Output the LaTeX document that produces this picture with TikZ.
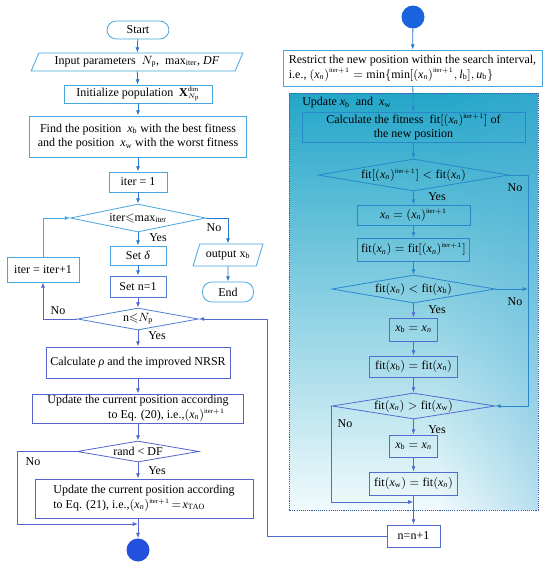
\documentclass[tikz,border=0pt]{standalone}
\usepackage{amssymb}
\usepackage{fontspec}
\setmainfont{Liberation Serif}
\usetikzlibrary{shapes.geometric,arrows.meta,calc,fadings}
\definecolor{lc}{RGB}{70,165,220}
\definecolor{ac}{RGB}{40,120,205}
\definecolor{ic}{RGB}{85,100,205}
\definecolor{bc}{RGB}{40,135,205}
\definecolor{jc}{RGB}{80,110,210}
\definecolor{dotc}{RGB}{50,90,170}
\definecolor{circA}{RGB}{25,100,220}
\definecolor{circB}{RGB}{35,80,220}
\definecolor{tealc}{RGB}{36,166,201}
\definecolor{midc}{RGB}{150,212,230}
\definecolor{lightc}{RGB}{240,250,252}
\definecolor{edgec}{RGB}{80,175,215}
\tikzfading[name=fadr, left color=transparent!100, right color=transparent!65]
\newcommand\fs{\fontsize{9}{11}\selectfont}
\newcommand\pxu{0.75pt}
\newcommand\itr{^{\scriptscriptstyle\mathrm{iter}+1}}
\newcommand\vx{\mathit{x}}
\newcommand\xnn{\mathit{x}_{\mathit{n}}}
\tikzset{
  sz/.style 2 args={minimum width=#1*\pxu, minimum height=#2*\pxu},
  base/.style={font=\fs, inner sep=1pt, align=center, line width=0.6pt},
  boxl/.style={base, draw=lc, fill=white},
  boxi/.style={base, draw=ic, fill=white},
  boxr/.style={base, draw=bc},
  boxj/.style={base, draw=jc},
  term/.style={boxl, rounded corners=7pt},
  para/.style={boxl, trapezium, trapezium left angle=65, trapezium right angle=115, trapezium stretches=true},
  dia/.style={base, diamond, inner sep=0pt, draw=lc, fill=white},
  diai/.style={dia, draw=ic},
  diar/.style={base, diamond, inner sep=0pt, draw=bc},
  diaj/.style={diar, draw=jc},
  lbl/.style={font=\fs, inner sep=0pt},
  arrL/.style={draw=ac, line width=0.6pt, -{Latex[length=4pt,width=3pt]}},
  arrI/.style={draw=ic, line width=0.6pt, -{Latex[length=4pt,width=3pt]}},
  arrB/.style={draw=bc, line width=0.6pt, -{Latex[length=4pt,width=3pt]}},
  arrJ/.style={draw=jc, line width=0.6pt, -{Latex[length=4pt,width=3pt]}},
}
\begin{document}
\begin{tikzpicture}[x=0.75pt,y=-0.75pt]
\useasboundingbox (0,0) rectangle (550,569);
\fill[white] (0,0) rectangle (550,569);
% blue region
\shade[top color=tealc, middle color=midc, bottom color=lightc] (289,93) rectangle (538,510);
\fill[edgec, path fading=fadr] (440,93) rectangle (538,510);
\draw[dotc, line width=0.5pt, dash pattern=on 0.8pt off 0.8pt] (289,93) rectangle (538,510);

% left column
\node[term, sz={62}{18}] (start) at (138,30) {Start};
\node[para, sz={212}{18}] (inp) at (137,62) {Input parameters\ \ $N_\mathrm{p}$,\ \ max$_\mathrm{iter}$, \textit{DF}};
\node[boxl, sz={148}{18}] (init) at (138,94) {Initialize population\ \ $\mathbf{X}^{\scriptscriptstyle\mathrm{dim}}_{\scriptscriptstyle N_\mathrm{p}}$};
\node[boxl, sz={217}{41}] (find) at (138,136.5) {Find the position\ \ $\vx_\mathrm{b}$ with the best fitness\\and the position\ \ $\vx_\mathrm{w}$ with the worst fitness};
\node[boxl, sz={58}{20}] (it1) at (138,182) {iter = 1};
\node[dia, aspect=4.8, sz={135}{28}] (d1) at (138,218) {iter$\leqslant$max$_\mathrm{iter}$};
\node[boxl, sz={56}{19}] (setd) at (138,255.5) {Set \textit{δ}};
\node[boxl, draw=ic!70!lc, sz={56}{21}] (setn) at (138,286.5) {Set n=1};
\node[dia, aspect=5.5, draw=ic!60!lc, sz={121}{22}] (dn) at (138,319) {n$\leqslant$$N_\mathrm{p}$};
\node[para, sz={70}{22}] (out) at (228,255) {output x$_\mathrm{b}$};
\node[term, sz={51}{20}] (end) at (228,292) {End};
\node[boxl, sz={72}{25}] (inc) at (43,269.5) {iter = iter+1};
\node[boxi, sz={184}{31}] (calc) at (138,362.5) {Calculate \textit{ρ} and the improved NRSR};
\node[boxi, sz={211}{29}, align=right] (u20) at (138,408.5) {Update the current position according\\to Eq. (20), i.e.,$(\xnn)\itr$\hspace*{0.3em}};
\node[diai, aspect=5.8, sz={122}{21}] (dr) at (138,451.5) {rand < DF};
\node[boxi, sz={218}{39}, align=left] (u21) at (144,498.5) {Update the current position according\\to Eq. (21), i.e.,$(\xnn)\itr\!=\!\vx_\mathrm{TAO}$};
\node[circle, fill=circB, inner sep=0pt, minimum size=23*\pxu] (bcirc) at (138,550) {};

% right column
\node[circle, fill=circA, inner sep=0pt, minimum size=23*\pxu] (tcirc) at (413,17) {};
\node[boxl, sz={259}{36}, align=left] (res) at (412.5,68) {Restrict the new position within the search interval,\\i.e.,\ $(\xnn)\itr = \min\{\min[(\xnn)\itr, \mathit{l}_\mathrm{b}], \mathit{u}_\mathrm{b}\}$};
\node[lbl, anchor=west] (upl) at (302,103) {Update $\vx_\mathrm{b}$\ \ and\ \ $\vx_\mathrm{w}$};
\node[boxr, sz={223}{30}] (cf) at (413.5,127) {Calculate the fitness\ \ $\mathrm{fit}[(\xnn)\itr]$ of\\the new position};
\node[diar, aspect=6, sz={191}{32}] (f1) at (413.5,175) {$\mathrm{fit}[(\xnn)\itr] < \mathrm{fit}(\xnn)$};
\node[boxr, sz={113}{20}] (xn) at (413.5,215) {$\xnn = (\xnn)\itr$};
\node[boxr, sz={112}{23}] (fxn) at (413.5,249.5) {$\mathrm{fit}(\xnn) = \mathrm{fit}[(\xnn)\itr]$};
\node[diar, aspect=5.8, sz={163}{28}] (f2) at (413.5,289) {$\mathrm{fit}(\xnn) < \mathrm{fit}(\vx_\mathrm{b})$};
\node[boxj, sz={48}{23}] (xb) at (413.5,329.5) {$\vx_\mathrm{b} = \xnn$};
\node[boxj, sz={88}{21}] (fxb) at (413.5,366.5) {$\mathrm{fit}(\vx_\mathrm{b}) = \mathrm{fit}(\xnn)$};
\node[diaj, aspect=6.3, sz={163}{26}] (f3) at (413.5,406) {$\mathrm{fit}(\xnn) > \mathrm{fit}(\vx_\mathrm{w})$};
\node[boxj, sz={48}{22}] (xb2) at (413.5,446) {$\vx_\mathrm{b} = \xnn$};
\node[boxj, sz={88}{23}] (fxw) at (413.5,483.5) {$\mathrm{fit}(\vx_\mathrm{w}) = \mathrm{fit}(\xnn)$};
\node[boxj, fill=white, sz={53}{22}] (nn) at (413.5,536) {n=n+1};

% labels
\node[lbl] (y1) at (158,238) {Yes};
\node[lbl] (n1) at (214,228) {No};
\node[lbl] (y2) at (157,336) {Yes};
\node[lbl] (n2) at (58,311) {No};
\node[lbl] (y3) at (157,471) {Yes};
\node[lbl] (n3) at (33,462) {No};
\node[lbl] (y4) at (437,197) {Yes};
\node[lbl] (n4) at (515,188) {No};
\node[lbl] (y5) at (437,310) {Yes};
\node[lbl] (n5) at (515,302) {No};
\node[lbl] (y6) at (437,430) {Yes};
\node[lbl] (n6) at (345,424) {No};

% coordinates
\coordinate (lc1) at (17,524);
\coordinate (mg) at (138,524);
\coordinate (rx) at (528,0);
\coordinate (lx) at (331,502);
\coordinate (bx) at (267,0);

% left connectors
\draw[arrL] (start) -- (inp);
\draw[arrL] (inp) -- (init);
\draw[arrL] (init) -- (find);
\draw[arrL] (find) -- (it1);
\draw[arrL] (it1) -- (d1);
\draw[arrL] (d1) -- (setd);
\draw[arrL] (d1.east) -| (out.north);
\draw[arrL] (out) -- (end);
\draw[arrL] (setd) -- (setn);
\draw[arrI] (setn) -- (dn);
\draw[arrL, draw=lc] (inc.north) |- (d1.west);
\draw[arrI] (dn.west) -| (inc.south);
\draw[arrI] (dn) -- (calc);
\draw[arrI] (calc) -- (u20);
\draw[arrI] (u20) -- (dr);
\draw[arrI] (dr.south) -- (dr.south |- u21.north);
\draw[arrI] (dr.west) -| (lc1) -- (mg);
\draw[arrI] (u21.south -| bcirc.north) -- (bcirc.north);

% right connectors
\draw[arrL] (tcirc) -- (res);
\draw[arrB] (res) -- (cf);
\draw[arrB] (cf) -- (f1);
\draw[arrB] (f1) -- (xn);
\draw[arrB] (xn) -- (fxn);
\draw[arrB] (fxn) -- (f2);
\draw[arrJ] (f2) -- (xb);
\draw[arrJ] (xb) -- (fxb);
\draw[arrJ] (fxb) -- (f3);
\draw[arrJ] (f3) -- (xb2);
\draw[arrJ] (xb2) -- (fxw);
\draw[arrJ] (fxw) -- (nn);
\draw[arrB] (f1.east) -| (rx |- f3.east) -- (f3.east);
\draw[arrB] (f2.east) -- (rx |- f2.east);
\draw[arrJ] (f3.west) -| (lx) -- (lx -| fxw.south);
\draw[arrJ] (nn.west) -| (bx |- dn.east) -- (dn.east);
\end{tikzpicture}
\end{document}
